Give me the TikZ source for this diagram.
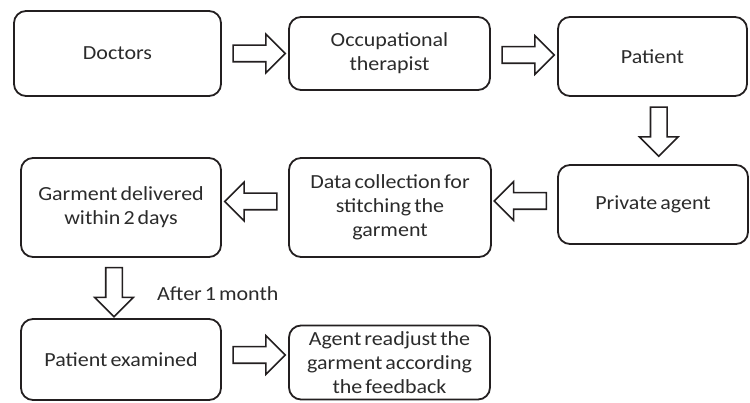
\documentclass[tikz,border=0pt]{standalone}
\usepackage{fontspec}
\setmainfont{Carlito}[FakeStretch=1.1, WordSpace=0.6]
\usetikzlibrary{shapes.arrows,calc}
\definecolor{linegray}{HTML}{231F20}
\definecolor{textgray}{HTML}{2B2B2B}

\begin{document}
\begin{tikzpicture}[x=1pt,y=-1pt]
                \tikzset{Box/.style={draw=linegray, line width=1.8pt, rounded corners=12pt, align=center,
                                     text=textgray, font=\fontsize{20}{24}\selectfont, inner sep=0pt},
                         BlockArrow/.style={single arrow, draw=linegray, fill=white, line width=1.6pt,
                                            minimum height=52pt, single arrow head extend=11pt,
                                            single arrow tip angle=90, inner sep=7.5pt}}
                \useasboundingbox (0,0) rectangle (750,403);
                \node[Box, minimum width=207pt, minimum height=85pt] (doc) at (117.5,53.5) {Doctors};
                \node[Box, minimum width=201pt, minimum height=73pt] (occ) at (389.5,53.5) {Occupational\\therapist};
                \node[Box, minimum width=189pt, minimum height=79pt] (pat) at (652.5,56.5) {Patient};
                \node[Box, minimum width=190pt, minimum height=79pt] (priv) at (653,204.5) {Private agent};
                \node[Box, minimum width=202pt, minimum height=99pt] (data) at (390,207.5) {Data collection for\\stitching the\\garment};
                \node[Box, minimum width=200pt, minimum height=99pt] (garm) at (121,207.5) {Garment delivered\\within 2 days};
                \node[Box, minimum width=200pt, minimum height=81pt] (exam) at (121,359.5) {Patient examined};
                \node[Box, minimum width=201pt, minimum height=74pt] (agent) at (389.5,362.5) {Agent readjust the\\garment according\\the feedback};
                \node[BlockArrow] (a1) at ($(doc.east)!0.5!(occ.west)$) {};
                \node[BlockArrow] (a2) at ($(occ.east)!0.5!(pat.west)$) {};
                \node[BlockArrow, shape border rotate=270, minimum height=49pt] (a3) at ($(pat.south)!0.5!(priv.north)+(6,-3)$) {};
                \node[BlockArrow, shape border rotate=180] (a4) at ($(garm.east)!0.5!(data.west)+(0,-6)$) {};
                \node[BlockArrow, shape border rotate=180] (a5) at ($(data.east)!0.5!(priv.west)+(0,-5)$) {};
                \node[BlockArrow, shape border rotate=270, minimum height=49pt] (a6) at ($(garm.south)!0.5!(exam.north)+(-7,0)$) {};
                \node[BlockArrow] (a7) at ($(exam.east)!0.5!(agent.west)+(0,-6)$) {};
                \node[anchor=base west, text=textgray, font=\fontsize{20}{24}\selectfont, inner sep=0pt] (after) at (157,301) {After 1 month};
            \end{tikzpicture}
\end{document}
